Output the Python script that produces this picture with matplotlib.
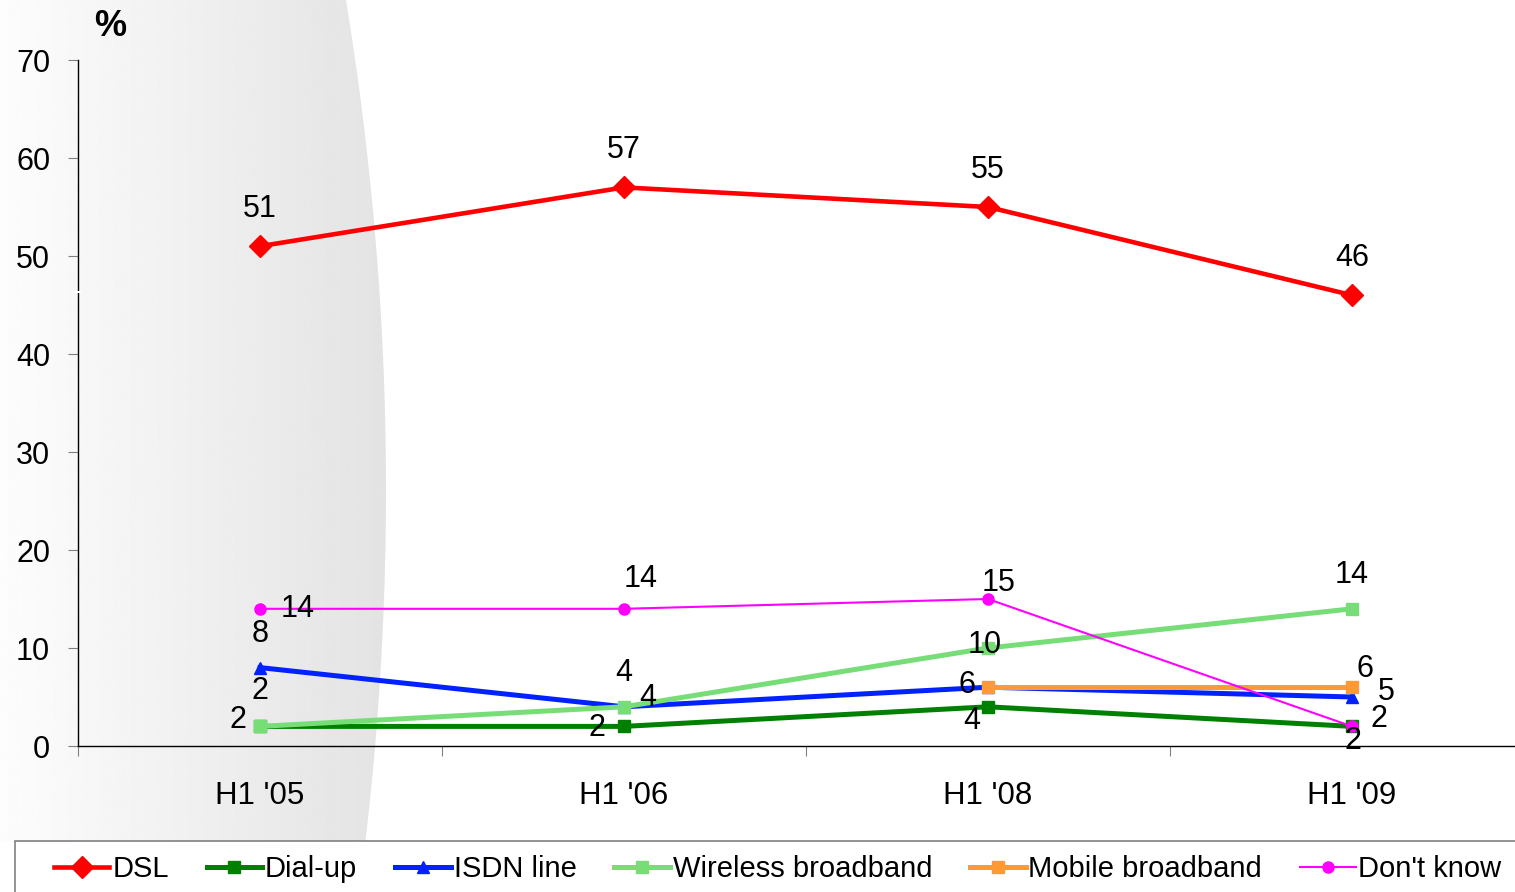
import matplotlib
matplotlib.use("Agg")
import matplotlib.pyplot as plt
import numpy as np
from matplotlib.path import Path
from matplotlib.patches import PathPatch, Rectangle

plt.rcParams["font.family"] = ["Liberation Sans", "DejaVu Sans"]

periods = ["H1 '05", "H1 '06", "H1 '08", "H1 '09"]
dsl = [51, 57, 55, 46]
dial_up = [2, 2, 4, 2]
isdn = [8, 4, 6, 5]
wireless = [2, 4, 10, 14]
mobile = [np.nan, np.nan, 6, 6]
dont_know = [14, 14, 15, 2]

series = [
    ("DSL", dsl, "#ff0000", "D", 3.3, 11),
    ("Dial-up", dial_up, "#008000", "s", 3.6, 8),
    ("ISDN line", isdn, "#0022ff", "^", 3.6, 9),
    ("Wireless broadband", wireless, "#77dd77", "s", 3.6, 8),
    ("Mobile broadband", mobile, "#ff9933", "s", 3.6, 8),
    ("Don't know", dont_know, "#ff00ff", "o", 1.5, 8),
]

# label offsets in pixels (dx, dy), one per point; None = no label
offsets = {
    "DSL": [(0, 37), (0, 37), (0, 37), (0, 37)],
    "Dial-up": [(-22, 6), (-27, -2), (-16, -14), (1, -15)],
    "ISDN line": [(0, 34), (0, 34), (-21, 2), (34, 5)],
    "Wireless broadband": [(0, 35), (24, 9), (-3, 3), (0, 34)],
    "Mobile broadband": [None, None, None, (13, 18)],
    "Don't know": [(38, 0), (17, 30), (11, 16), (27, 7)],
}

fig = plt.figure(figsize=(15.15, 8.92), dpi=100)

# background gradient shape
bg = fig.add_axes([0, 0, 1, 1], zorder=0)
bg.set_xlim(0, 1515)
bg.set_ylim(892, 0)
bg.axis("off")
grad = np.linspace(0.99, 0.89, 256).reshape(1, -1)
img = bg.imshow(grad, cmap="gray", vmin=0, vmax=1, extent=[0, 390, 842, 0], aspect="auto")
ys = np.linspace(0, 842, 60)
xs = 386 - 40 * ((ys - 490) / 490) ** 2
verts = [(0, 0)] + list(zip(xs, ys)) + [(0, 842), (0, 0)]
clip = PathPatch(Path(verts, closed=True), transform=bg.transData, fc="none", ec="none")
bg.add_patch(clip)
img.set_clip_path(clip)

ax = fig.add_axes([78 / 1515, 146 / 892, 1456 / 1515, 686 / 892], zorder=1)
ax.patch.set_alpha(0)

x = np.arange(len(periods))
for name, vals, color, marker, lw, ms in series:
    ax.plot(x, vals, color=color, marker=marker, lw=lw, ms=ms, label=name, zorder=3)
    for i, v in enumerate(vals):
        off = offsets[name][i]
        if off is None or np.isnan(v):
            continue
        ax.annotate(str(int(v)), (x[i], v), xytext=off, textcoords="offset pixels",
                    ha="center", va="center", fontsize=22, zorder=5)

ax.set_xlim(-0.5, 3.5)
ax.set_ylim(0, 70)
ax.set_yticks(range(0, 71, 10))
ax.set_xticks([-0.5, 0.5, 1.5, 2.5])
ax.set_xticklabels([])
ax.set_xticks(x, minor=True)
ax.set_xticklabels(periods, minor=True)
ax.tick_params(axis="y", labelsize=22, length=7, color="#808080", pad=13)
ax.tick_params(axis="x", which="major", length=7, color="#808080")
ax.tick_params(axis="x", which="minor", length=0, labelsize=22.5, pad=25)
for s in ["top", "right"]:
    ax.spines[s].set_visible(False)
ax.spines["left"].set_linewidth(1)
ax.spines["bottom"].set_linewidth(1)
# small break in the y axis line
ax.plot([-0.505, -0.495], [46.3, 46.3], color="white", lw=1.5, clip_on=False, zorder=4)

fig.text(94 / 1515, 1 - 27 / 892, "%", fontsize=26, fontweight="bold", va="center")

# legend box
fig.patches.append(Rectangle((15 / 1515, -0.01), 1.02, (892 - 841) / 892 + 0.01,
                             transform=fig.transFigure, fc="white", ec="#808080", lw=1.2))
fig.legend(loc="center left", bbox_to_anchor=(54 / 1515, 1 - 869 / 892), ncol=6,
           frameon=False, fontsize=21, handlelength=1.9, handletextpad=0.1,
           columnspacing=1.3, borderpad=0, borderaxespad=0)

fig.savefig("out.png", dpi=100)
